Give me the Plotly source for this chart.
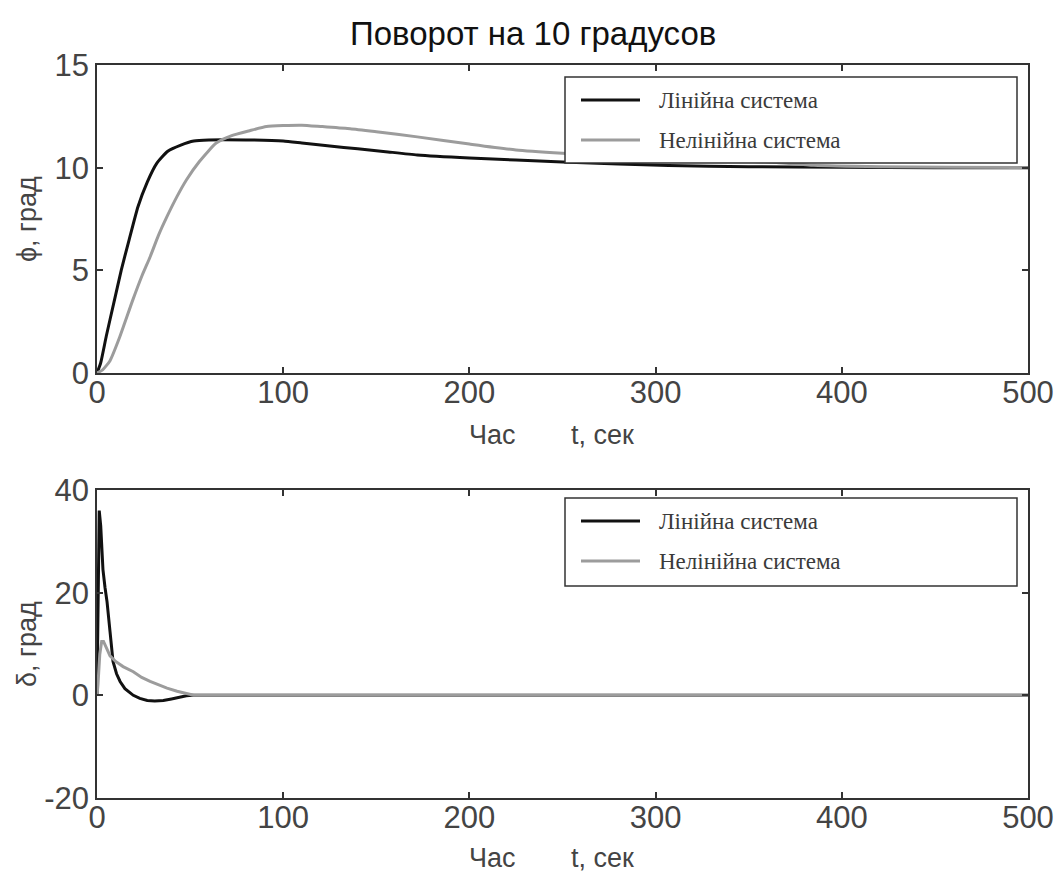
import plotly.graph_objects as go

W, H = 1061, 875

# ---- data ----
t_lin_top = [0, 2, 5, 9, 13, 17, 22, 27, 32, 38, 45, 52, 60, 80, 100, 110, 125, 140, 155, 172, 200, 225, 250, 280, 307, 350, 400, 450, 500]
phi_lin = [0, 0.5, 1.8, 3.4, 5.0, 6.4, 8.1, 9.3, 10.2, 10.8, 11.1, 11.3, 11.35, 11.35, 11.3, 11.2, 11.05, 10.92, 10.78, 10.62, 10.47, 10.37, 10.28, 10.18, 10.1, 10.05, 10.02, 10.0, 10.0]

t_nl_top = [0, 3, 7, 12, 19, 24, 28.5, 33, 37.5, 43, 48, 55, 64, 72, 82, 91, 100, 110, 121, 136, 150, 172, 200, 225, 250, 280, 310, 340, 365, 385, 420, 460, 500]
phi_nl = [0, 0.15, 0.6, 1.7, 3.5, 4.7, 5.65, 6.7, 7.6, 8.6, 9.4, 10.3, 11.2, 11.55, 11.8, 12.0, 12.05, 12.07, 12.0, 11.9, 11.75, 11.5, 11.15, 10.86, 10.7, 10.55, 10.45, 10.35, 10.25, 10.12, 10.05, 10.02, 10.0]

t_lin_bot = [0, 0.5, 1.2, 2, 3.2, 4.3, 5.4, 7, 8.6, 10.5, 12.4, 15, 19.5, 23, 27, 31, 35.6, 40, 44.6, 48, 51, 60, 100, 500]
delta_lin = [0, 20, 36, 33, 24.5, 21, 18.2, 12.4, 6.6, 4.2, 2.7, 1.3, 0, -0.6, -1, -1.1, -1, -0.7, -0.3, -0.1, 0, 0, 0, 0]

t_nl_bot = [0, 0.5, 1.5, 2.5, 3.5, 5, 7, 10, 14, 19.5, 24, 28.5, 33, 37.6, 43, 48, 52, 60, 500]
delta_nl = [0, 2, 8, 10.5, 10.5, 9.2, 7.7, 6.6, 5.6, 4.6, 3.5, 2.7, 2.0, 1.4, 0.8, 0.4, 0, 0, 0]

series_names = ["Лінійна система", "Нелінійна система"]
x_ticks = [0, 100, 200, 300, 400, 500]
y_ticks_top = [0, 5, 10, 15]
y_ticks_bot = [-20, 0, 20, 40]
y_ticktext_bot = ["-20", "0", "20", "40"]

title_text = "Поворот на 10 градусов"
xtitle_left = "Час"
xtitle_right = "t, сек"
ytitle_top = "ϕ, град"
ytitle_bot = "δ, град"

# ---- styling ----
BLACK = "#111111"
GRAY = "#9c9c9c"
AX = "#333333"
TXT = "#444444"
SANS = "Liberation Sans, Arial, sans-serif"
SERIF = "Liberation Serif, Times New Roman, serif"


def px(x):
    return x / W


def py(y):
    return 1 - y / H


fig = go.Figure()
fig.add_trace(go.Scatter(x=t_lin_top, y=phi_lin, mode="lines", line=dict(color=BLACK, width=3, shape="spline", smoothing=0.5),
                         xaxis="x", yaxis="y", showlegend=False))
fig.add_trace(go.Scatter(x=t_nl_top, y=phi_nl, mode="lines", line=dict(color=GRAY, width=3, shape="spline", smoothing=0.5),
                         xaxis="x", yaxis="y", showlegend=False))
fig.add_trace(go.Scatter(x=t_lin_bot, y=delta_lin, mode="lines", line=dict(color=BLACK, width=3),
                         xaxis="x2", yaxis="y2", showlegend=False))
fig.add_trace(go.Scatter(x=t_nl_bot, y=delta_nl, mode="lines", line=dict(color=GRAY, width=3),
                         xaxis="x2", yaxis="y2", showlegend=False))

tickfont = dict(family=SANS, size=31, color=TXT)
common_x = dict(range=[0, 500], tickvals=x_ticks, ticks="inside", ticklen=6, tickwidth=1.5, tickcolor=AX,
                showline=True, linecolor=AX, linewidth=1.5, mirror="ticks", showgrid=False, zeroline=False,
                tickfont=tickfont, automargin=False, ticklabelstandoff=-9)
common_y = dict(ticks="inside", ticklen=6, tickwidth=1.5, tickcolor=AX,
                showline=True, linecolor=AX, linewidth=1.5, mirror="ticks", showgrid=False, zeroline=False,
                tickfont=tickfont, automargin=False)

x_dom = [px(97), px(1028)]
fig.update_layout(
    width=W, height=H,
    margin=dict(l=0, r=0, t=0, b=0),
    paper_bgcolor="white", plot_bgcolor="white",
    xaxis=dict(domain=x_dom, anchor="y", **common_x),
    yaxis=dict(domain=[py(373), py(65)], range=[0, 15], tickvals=y_ticks_top, anchor="x", **common_y),
    xaxis2=dict(domain=x_dom, anchor="y2", **common_x),
    yaxis2=dict(domain=[py(798), py(490)], range=[-20, 40], tickvals=y_ticks_bot, ticktext=y_ticktext_bot,
                anchor="x2", **common_y),
    showlegend=False,
)

annots = []
annots.append(dict(text=title_text, x=px(533), y=py(34), xref="paper", yref="paper", showarrow=False,
                   xanchor="center", yanchor="middle", font=dict(family=SANS, size=33, color="#111111")))
for ycen in [435, 858]:
    annots.append(dict(text=xtitle_left, x=px(492), y=py(ycen), xref="paper", yref="paper", showarrow=False,
                       xanchor="center", yanchor="middle", font=dict(family=SANS, size=27, color=TXT)))
    annots.append(dict(text=xtitle_right, x=px(569), y=py(ycen), xref="paper", yref="paper", showarrow=False,
                       xanchor="left", yanchor="middle", font=dict(family=SANS, size=27, color=TXT)))
annots.append(dict(text=ytitle_top, x=px(27), y=py(219), xref="paper", yref="paper", showarrow=False, textangle=-90,
                   xanchor="center", yanchor="middle", font=dict(family=SANS, size=27, color=TXT)))
annots.append(dict(text=ytitle_bot, x=px(27), y=py(644), xref="paper", yref="paper", showarrow=False, textangle=-90,
                   xanchor="center", yanchor="middle", font=dict(family=SANS, size=27, color=TXT)))

shapes = []
# legends drawn as boxes (one per panel)
for (top, bottom) in [(77, 163), (498, 586)]:
    shapes.append(dict(type="rect", xref="paper", yref="paper", x0=px(565), x1=px(1017), y0=py(bottom), y1=py(top),
                       line=dict(color=AX, width=1.5), fillcolor="white", layer="above"))
    r1 = top + 23
    r2 = top + 63
    for ry, col, name in [(r1, BLACK, series_names[0]), (r2, GRAY, series_names[1])]:
        shapes.append(dict(type="line", xref="paper", yref="paper", x0=px(581), x1=px(640), y0=py(ry), y1=py(ry),
                           line=dict(color=col, width=3), layer="above"))
        annots.append(dict(text=name, x=px(657), y=py(ry), xref="paper", yref="paper", showarrow=False,
                           xanchor="left", yanchor="middle", font=dict(family=SERIF, size=23, color="#3a3a3a")))

fig.update_layout(annotations=annots, shapes=shapes)
fig.write_html("out.html", config={"displayModeBar": False},
               post_script="document.body.style.margin='0';document.body.style.overflow='hidden';")
